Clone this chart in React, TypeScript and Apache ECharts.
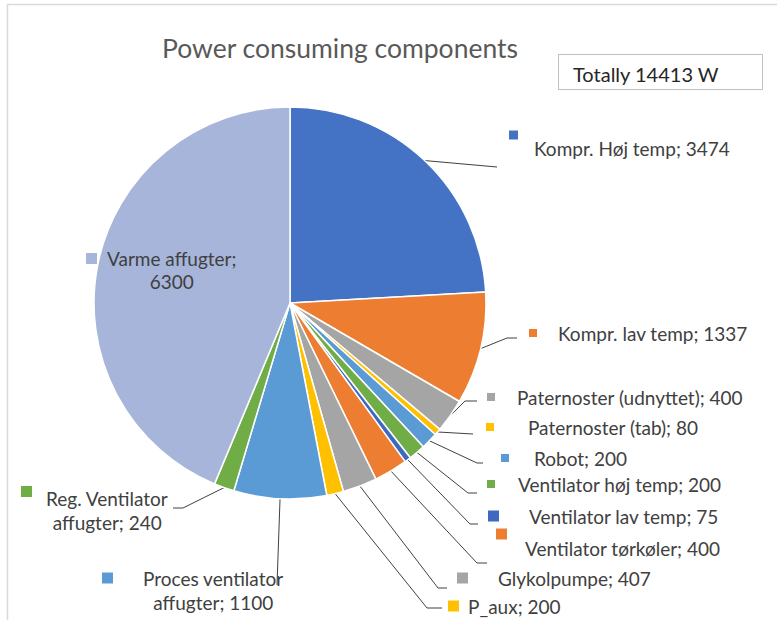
import React, { useEffect, useRef } from 'react';
import * as echarts from 'echarts';

// ---- data ----
const categories = [
  'Kompr. Høj temp',
  'Kompr. lav temp',
  'Paternoster (udnyttet)',
  'Paternoster (tab)',
  'Robot',
  'Ventilator høj temp',
  'Ventilator lav temp',
  'Ventilator tørkøler',
  'Glykolpumpe',
  'P_aux',
  'Proces ventilator affugter',
  'Reg. Ventilator affugter',
  'Varme affugter',
];
const values = [3474, 1337, 400, 80, 200, 200, 75, 400, 407, 200, 1100, 240, 6300];
const titleText = 'Power consuming components';
const totalText = 'Totally 14413 W';

// ---- styles ----
const colors = [
  '#4472C4', '#ED7D31', '#A5A5A5', '#FFC000', '#5B9BD5', '#70AD47', '#3F69C0',
  '#ED7D31', '#A5A5A5', '#FFC000', '#5B9BD5', '#70AD47', '#A7B5DB',
];

// label layout: x = marker left, y = label block centre, m = marker size,
// va = marker vertical align, lh = line height, gap = marker->text gap,
// wrap = words on first line, ax/ay = leader end offset, el = elbow length
type Spot = { x: number; y: number; m: number; va: string; lh: number; gap: number; wrap?: number; ax?: number; ay?: number; el?: number; noLine?: boolean };
const spots: Spot[] = [
  { x: 509, y: 148, m: 9, va: 'top', lh: 35, gap: 16, ax: -12, ay: 19, el: 0 },
  { x: 529, y: 333, m: 8, va: 'middle', lh: 22, gap: 21, ax: -12, ay: 5, el: 10 },
  { x: 487, y: 397, m: 8, va: 'middle', lh: 22, gap: 22, ax: -10, ay: 4, el: 12 },
  { x: 486, y: 427, m: 8, va: 'middle', lh: 22, gap: 34, ax: -13, ay: 7, el: 0 },
  { x: 501, y: 458, m: 8, va: 'middle', lh: 22, gap: 25, ax: -18, ay: 5, el: 6 },
  { x: 487, y: 484, m: 8, va: 'middle', lh: 22, gap: 23, ax: -10, ay: 9, el: 9 },
  { x: 488, y: 516, m: 11, va: 'middle', lh: 22, gap: 30, ax: -10, ay: 8, el: 8 },
  { x: 496, y: 548, m: 11, va: 'top', lh: 39, gap: 18, ax: -9, ay: 15, el: 10 },
  { x: 457, y: 578, m: 11, va: 'middle', lh: 22, gap: 30, ax: -10, ay: 10, el: 9 },
  { x: 448, y: 606, m: 11, va: 'middle', lh: 22, gap: 9, ax: -6, ay: 2, el: 15 },
  { x: 102, y: 590, m: 11, va: 'middle', lh: 24, gap: 30, wrap: 2, ax: 175, ay: -5, el: 0 },
  { x: 21, y: 510, m: 11, va: 'top', lh: 24, gap: 14, wrap: 2, ax: 152, ay: -2, el: -10 },
  { x: 86, y: 270, m: 11, va: 'middle', lh: 23, gap: 10, wrap: 2, noLine: true },
];

const FONT = 'Lato, "Open Sans", sans-serif';
const LABEL_SIZE = 19;
const TEXT_COLOR = '#404040';

function buildRich() {
  const rich: Record<string, any> = {};
  spots.forEach((s, i) => {
    rich['m' + i] = { width: s.m, height: s.m, backgroundColor: colors[i], verticalAlign: s.va };
    rich['g' + i] = { width: s.gap, height: 1 };
    rich['t' + i] = { fontSize: LABEL_SIZE, fontFamily: FONT, color: TEXT_COLOR, lineHeight: s.lh };
    rich['c' + i] = {
      fontSize: LABEL_SIZE, fontFamily: FONT, color: TEXT_COLOR, lineHeight: s.lh,
      align: 'center', padding: [0, 0, 0, s.m + s.gap],
    };
  });
  return rich;
}

function labelText(i: number) {
  const full = `${categories[i]}; ${values[i]}`;
  const s = spots[i];
  if (s.wrap) {
    const words = full.split(' ');
    const l1 = words.slice(0, s.wrap).join(' ');
    const l2 = words.slice(s.wrap).join(' ');
    return `{m${i}|}{g${i}|}{t${i}|${l1}}\n{c${i}|${l2}}`;
  }
  return `{m${i}|}{g${i}|}{t${i}|${full}}`;
}

export default function App() {
  const ref = useRef<HTMLDivElement>(null);
  useEffect(() => {
    document.body.style.margin = '0';
    if (!ref.current) return;
    const chart = echarts.init(ref.current, undefined, { renderer: 'svg' });
    const data = categories.map((name, i) => ({
      name,
      value: values[i],
      itemStyle: { color: colors[i] },
      labelLine: { show: !spots[i].noLine },
    }));
    chart.setOption({
      animation: false,
      backgroundColor: '#ffffff',
      graphic: [
        {
          type: 'rect', silent: true, z: -1,
          shape: { x: 7.5, y: 4.5, width: 900, height: 800 },
          style: { fill: 'none', stroke: '#D9D9D9', lineWidth: 1.5 },
        },
        {
          type: 'text', x: 340, y: 48,
          style: {
            text: titleText, fill: '#595959', font: `26.5px ${FONT}`,
            textAlign: 'center', textVerticalAlign: 'middle',
          },
        },
        {
          type: 'rect',
          shape: { x: 558.5, y: 54.5, width: 204, height: 35 },
          style: { fill: '#fff', stroke: '#BFBFBF', lineWidth: 1 },
        },
        {
          type: 'text', x: 573, y: 74,
          style: {
            text: totalText, fill: '#262626', font: `20px ${FONT}`,
            textAlign: 'left', textVerticalAlign: 'middle',
          },
        },
      ],
      series: [
        {
          type: 'pie',
          left: 0, top: 0, width: 1600, height: 1600,
          center: [290, 303],
          radius: 196,
          startAngle: 90,
          clockwise: true,
          avoidLabelOverlap: false,
          itemStyle: { borderColor: '#ffffff', borderWidth: 1.5 },
          emphasis: { disabled: true },
          label: {
            show: true,
            position: 'outside',
            formatter: (p: any) => labelText(p.dataIndex),
            rich: buildRich(),
          },
          labelLine: {
            show: true, length: 10, length2: 10, smooth: false,
            lineStyle: { color: '#404040', width: 1 },
          },
          labelLayout: (params: any) => {
            const i = params.dataIndex;
            const s = spots[i];
            const out: any = { x: s.x, y: s.y, align: 'left', verticalAlign: 'middle' };
            if (!s.noLine && params.labelLinePoints) {
              const start = params.labelLinePoints[0];
              const end = [s.x + (s.ax || 0), s.y + (s.ay || 0)];
              const elbow = [end[0] - (s.el || 0), end[1]];
              out.labelLinePoints = [start, elbow, end];
            }
            return out;
          },
          data,
        },
      ],
    });
    return () => chart.dispose();
  }, []);
  return <div ref={ref} style={{ width: 777, height: 620 }} />;
}
